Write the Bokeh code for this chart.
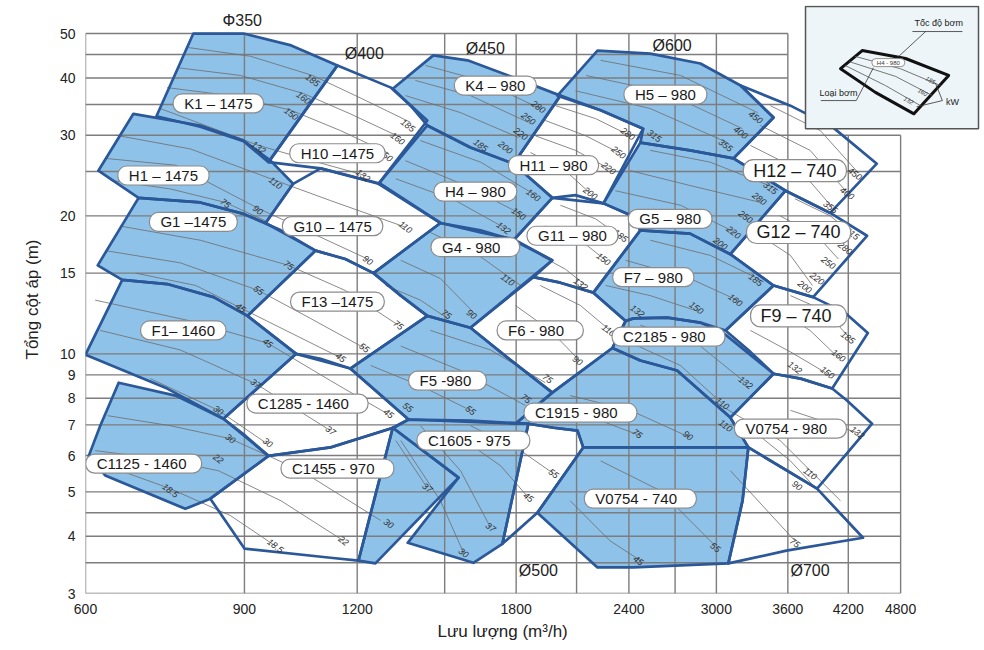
import math
from bokeh.plotting import figure
from bokeh.models import Range1d, FixedTicker, NumeralTickFormatter, Title
from bokeh.core.properties import value
from bokeh.embed import file_html
from bokeh.resources import INLINE

FONT = "Liberation Sans"
BLUE_FILL = "#8fc2e9"
EDGE = "#2b5899"
GRID = "#7d7d7d"
THIN = "#6c6c6c"

# ---- axes / grid values ----
x_ticks = [600, 900, 1200, 1800, 2400, 3000, 3600, 4200, 4800]
y_ticks = [3, 4, 5, 6, 7, 8, 9, 10, 15, 20, 30, 40, 50]
x_grid = [600, 900, 1200, 1500, 1800, 2100, 2400, 2700, 3000, 3600, 4200, 4800]
y_grid = [3, 3.5, 4, 4.5, 5, 6, 7, 8, 9, 10, 15, 20, 25, 30, 35, 40, 45, 50]

# ---- pump operating regions (flow m3/h, head m) ----
K1 = [(790, 50), (898, 50), (1014, 47.1), (1141, 42.6), (957, 26.2), (898, 29.1), (804, 31.3), (719, 33.0)]
H1 = [(678, 33.4), (804, 31.5), (898, 29.2), (962, 26.4), (1019, 23.5), (950, 19.3), (898, 20.2), (804, 21.4), (687, 21.9), (620, 25.1)]
G1 = [(687, 21.9), (804, 21.4), (898, 20.2), (988, 18.6), (1079, 16.8), (907, 12.1), (832, 13.3), (739, 14.2), (659, 14.5), (619, 15.6)]
F1 = [(659, 14.5), (739, 14.2), (832, 13.3), (907, 12.1), (1027, 10.0), (853, 7.22), (739, 8.40), (600, 9.96)]
C1125 = [(653, 8.65), (755, 8.11), (853, 7.22), (902, 6.63), (957, 5.99), (825, 4.83), (774, 4.59), (631, 5.43), (605, 5.99), (623, 6.97)]
H10 = [(1141, 42.6), (1308, 38.1), (1435, 32.3), (1267, 23.5), (1093, 25.4), (957, 26.2)]
G10 = [(1019, 23.5), (1093, 25.4), (1274, 23.5), (1484, 19.3), (1251, 15.0), (1164, 16.1), (1079, 16.8), (950, 19.3)]
F13 = [(1079, 16.8), (1164, 16.1), (1251, 15.0), (1341, 13.4), (1435, 12.1), (1179, 9.29), (1093, 9.76), (1027, 10.0), (907, 12.1)]
C1285 = [(1027, 10.0), (1179, 9.29), (1368, 7.19), (1317, 6.90), (1121, 6.25), (957, 5.99), (853, 7.22)]
C1455 = [(957, 5.99), (1121, 6.25), (1314, 6.90), (1204, 3.54), (1121, 3.59), (900, 3.76), (825, 4.83)]
C1455B = [(1314, 6.90), (1554, 5.37), (1257, 3.49), (1204, 3.54)]
K4 = [(1457, 44.8), (1590, 43.7), (1788, 40.1), (2015, 36.6), (1788, 26.0), (1602, 28.2), (1435, 31.5), (1375, 34.8), (1314, 37.9)]
H4 = [(1435, 31.5), (1602, 28.2), (1788, 26.0), (1974, 21.9), (1788, 17.7), (1644, 18.6), (1484, 19.3), (1267, 23.5)]
G4 = [(1484, 19.3), (1644, 18.4), (1788, 17.8), (1974, 16.0), (1602, 11.4), (1435, 12.1), (1341, 13.4), (1251, 15.0)]
F5 = [(1179, 9.29), (1435, 12.1), (1602, 11.4), (1761, 9.81), (1974, 8.23), (1797, 7.04), (1368, 7.19)]
C1605 = [(1368, 7.19), (1602, 7.15), (1857, 7.04), (1738, 3.85), (1614, 3.50), (1365, 3.87), (1554, 5.37), (1314, 6.90)]
H11 = [(2015, 36.6), (2233, 34.0), (2489, 31.0), (2249, 21.3), (2094, 22.2), (1974, 21.9), (1788, 26.0)]
G11 = [(1974, 21.9), (2249, 21.3), (2421, 20.0), (2471, 18.6), (2192, 13.6), (2015, 14.3), (1881, 14.7), (1974, 16.0), (1788, 17.7)]
F6 = [(1881, 14.7), (2015, 14.3), (2192, 13.6), (2380, 11.8), (2301, 10.3), (1974, 8.23), (1761, 9.81), (1602, 11.4)]
C1915 = [(1797, 7.04), (1974, 8.23), (2301, 10.3), (2471, 9.67), (2714, 9.2), (3109, 7.26), (3255, 6.25), (2136, 6.25), (2105, 6.80), (1980, 6.90), (1857, 7.04)]
GAP1915 = [(1857, 7.04), (1980, 6.90), (2105, 6.80), (2136, 6.25), (1900, 4.50), (1738, 3.85)]
H5 = [(2215, 45.9), (2534, 45.2), (2880, 43.0), (3191, 38.5), (3471, 32.8), (3134, 26.7), (2805, 27.8), (2471, 28.9), (2489, 31.0), (2233, 34.0), (2000, 36.6)]
G5 = [(2471, 28.9), (2805, 27.8), (3134, 26.7), (3579, 22.7), (3109, 16.5), (2805, 18.3), (2471, 18.6), (2421, 20.0), (2249, 21.3)]
F7 = [(2471, 18.6), (2805, 18.3), (3109, 16.5), (3471, 14.1), (3071, 11.25), (2880, 11.7), (2647, 12.0), (2428, 11.95), (2380, 11.8), (2192, 13.6)]
C2185 = [(2301, 10.3), (2380, 11.8), (2428, 11.95), (2647, 12.0), (2880, 11.7), (3056, 11.1), (3471, 9.05), (3109, 7.26), (2714, 9.2), (2471, 9.67)]
H12 = [(3191, 38.5), (3624, 34.8), (4039, 31.2), (4517, 26.0), (4011, 20.3), (3579, 22.7), (3134, 26.7), (3471, 32.8)]
G12 = [(3579, 22.7), (4011, 20.3), (4406, 18.1), (3840, 13.3), (3471, 14.1), (3109, 16.5)]
F9 = [(3471, 14.1), (3840, 13.3), (4165, 12.3), (4415, 11.1), (4031, 8.40), (3720, 8.83), (3471, 9.05), (3272, 10.1), (3071, 11.25)]
V980 = [(3109, 7.26), (3471, 9.05), (3720, 8.83), (4031, 8.40), (4186, 7.91), (4463, 7.04), (3879, 5.08), (3255, 6.25)]
D700 = [(3255, 6.25), (3879, 5.08), (4361, 3.97), (3587, 3.72), (3093, 3.49), (3207, 4.78)]
V740 = [(2136, 6.25), (3255, 6.25), (3207, 4.78), (3093, 3.49), (2428, 3.42), (2215, 3.42), (1900, 4.50)]

blue_regions = [K1, H1, G1, F1, C1125, C1455B, K4, H4, G4, F5, C1605, H5, G5, F7, C2185, C1915, V740]
white_regions = [H10, G10, F13, C1285, C1455, H11, G11, F6, GAP1915, H12, G12, F9, V980, D700]

# ---- impeller trim curves ----
trim_curves = [
    [(780, 46.6), (914, 44.6), (1071, 40.5), (1209, 36.2), (1375, 32.0)],
    [(760, 42.1), (891, 40.5), (1046, 37.0), (1179, 33.4), (1341, 29.65)],
    [(739, 38.1), (868, 36.6), (1014, 34.0), (1150, 30.7), (1300, 27.4)],
    [(726, 34.3), (933, 28.5), (1040, 26.8), (1226, 24.5)],
    [(648, 30.0), (784, 28.0), (974, 23.9), (1121, 21.6), (1357, 18.9)],
    [(631, 26.7), (755, 25.8), (931, 20.8), (1065, 18.4), (1233, 16.1)],
    [(640, 23.9), (745, 22.9), (857, 21.4), (950, 19.5)],
    [(656, 19.0), (804, 17.7), (1007, 15.6), (1164, 13.75), (1333, 11.55)],
    [(631, 16.8), (764, 15.8), (933, 13.75), (1065, 11.95), (1222, 10.3)],
    [(682, 15.0), (795, 14.1), (891, 12.6), (1150, 9.81)],
    [(615, 13.1), (784, 11.8), (955, 10.55), (1121, 8.74), (1290, 7.44)],
    [(623, 11.25), (764, 10.2), (926, 8.61), (1121, 6.80)],
    [(708, 8.83), (842, 7.53), (950, 6.40)],
    [(635, 7.33), (745, 6.97), (868, 6.53), (1040, 5.56), (1274, 4.33)],
    [(615, 6.15), (726, 5.90), (842, 5.56), (988, 4.78), (1159, 3.91)],
    [(656, 5.56), (745, 5.08), (868, 4.44), (974, 3.81)],
    [(1428, 42.6), (1644, 39.5), (1914, 34.3)],
    [(1392, 39.5), (1602, 36.6), (1857, 32.0)],
    [(1357, 36.6), (1562, 33.6), (1811, 29.65)],
    [(1990, 34.8), (2205, 32.6), (2409, 29.9)],
    [(1939, 32.3), (2151, 29.9), (2337, 27.5)],
    [(1891, 29.9), (2094, 27.8), (2278, 25.4)],
    [(1867, 27.5), (2041, 25.1), (2175, 22.4)],
    [(1410, 29.2), (1644, 26.2), (1891, 22.2)],
    [(1357, 26.4), (1582, 23.3), (1821, 20.2)],
    [(1324, 24.1), (1542, 21.6), (1751, 18.8)],
    [(1446, 18.4), (1622, 16.6), (1821, 14.1)],
    [(1341, 16.0), (1484, 14.6), (1622, 12.2)],
    [(1290, 14.1), (1410, 13.1), (1511, 11.95)],
    [(1446, 11.25), (1686, 10.2), (1939, 8.65)],
    [(1341, 10.4), (1562, 9.2), (1842, 7.72)],
    [(1242, 9.43), (1410, 8.52), (1602, 7.53)],
    [(1914, 14.1), (2121, 12.75), (2287, 11.25)],
    [(1797, 12.75), (1964, 11.25), (2116, 9.67)],
    [(2015, 21.1), (2205, 19.7), (2361, 17.9)],
    [(1939, 19.0), (2121, 17.7), (2262, 16.0)],
    [(1914, 16.4), (2041, 15.3), (2151, 14.1)],
    [(2233, 43.7), (2738, 40.5), (3332, 33.6)],
    [(2151, 40.5), (2634, 37.2), (3207, 31.0)],
    [(2094, 37.5), (2534, 34.3), (3086, 28.9)],
    [(2534, 27.8), (2953, 26.2), (3488, 23.0)],
    [(2409, 25.1), (2805, 23.3), (3357, 21.4)],
    [(2318, 22.7), (2738, 21.1), (3149, 18.4)],
    [(2534, 17.7), (2953, 16.4), (3357, 14.5)],
    [(2380, 16.0), (2805, 14.6), (3191, 13.0)],
    [(2262, 14.1), (2534, 13.4), (2857, 12.4)],
    [(2471, 11.55), (2880, 10.4), (3232, 8.65)],
    [(2380, 10.7), (2738, 9.43), (3046, 7.79)],
    [(2066, 8.11), (2409, 7.53), (2805, 6.57)],
    [(2015, 7.53), (2233, 7.15), (2471, 6.63)],
    [(2233, 5.84), (2600, 5.03), (2992, 3.81)],
    [(2066, 4.78), (2287, 3.91), (2471, 3.54)],
    [(3031, 7.72), (3530, 6.47), (4118, 4.78)],
    [(3191, 7.15), (3624, 5.84), (4271, 4.12)],
    [(3109, 5.56), (3665, 3.91)],
    [(3624, 7.53), (4298, 6.73)],
    [(3443, 34.8), (3911, 30.7), (4311, 24.8)],
    [(3357, 31.5), (3810, 27.8), (4196, 22.4)],
    [(3272, 28.5), (3720, 25.1), (4031, 20.9)],
    [(3665, 21.8), (4011, 20.0), (4240, 18.3)],
    [(3530, 20.0), (3880, 18.1), (4096, 16.1)],
    [(3357, 18.1), (3624, 16.4), (3833, 14.1)],
    [(3624, 13.4), (3962, 12.4), (4212, 10.85)],
    [(3443, 12.75), (3810, 11.25), (4096, 9.81)],
    [(3272, 11.25), (3624, 10.1), (3982, 9.05)],
    [(1410, 6.97), (1562, 5.56), (1686, 4.18)],
    [(1341, 6.47), (1484, 4.78), (1574, 3.68)],
    [(1602, 6.97), (1821, 6.15), (1980, 5.48)],
    [(1522, 6.80), (1730, 5.70), (1857, 4.86)],
    [(1324, 6.47), (1435, 5.10)],
]

# ---- motor power labels (kW) ----
kw_labels = [
    ("185", 1071, 39.5), ("160", 1046, 36.2), ("150", 1014, 33.4), ("132", 933, 28.2),
    ("185", 1365, 31.5), ("160", 1330, 29.5), ("150", 1290, 27.1), ("132", 1218, 24.5),
    ("110", 974, 23.6), ("75", 857, 21.3), ("90", 931, 20.6),
    ("110", 1357, 18.9), ("90", 1233, 16.0),
    ("75", 1007, 15.6), ("55", 933, 13.75), ("45", 891, 12.6),
    ("75", 1333, 11.55), ("55", 1222, 10.3), ("45", 1150, 9.81),
    ("45", 955, 10.55), ("37", 926, 8.61), ("30", 842, 7.53),
    ("37", 1121, 6.80), ("55", 1365, 7.64), ("45", 1300, 7.41),
    ("30", 868, 6.53), ("22", 842, 5.90), ("18.5", 745, 5.03), ("30", 955, 6.40),
    ("18.5", 974, 3.81), ("22", 1159, 3.91),
    ("30", 1300, 4.26), ("37", 1435, 5.10),
    ("37", 1686, 4.18), ("30", 1574, 3.68), ("55", 1980, 5.48), ("45", 1857, 4.86),
    ("75", 1845, 7.99), ("55", 1602, 7.53),
    ("110", 1761, 14.5), ("90", 1606, 12.2), ("75", 1506, 12.2),
    ("160", 1881, 22.2), ("150", 1811, 20.2), ("132", 1743, 18.8),
    ("280", 1905, 34.6), ("250", 1857, 32.6), ("220", 1821, 30.2), ("185", 1644, 28.5), ("200", 1751, 28.2),
    ("280", 2393, 30.2), ("315", 2560, 29.9), ("250", 2337, 27.5), ("220", 2278, 25.4), ("200", 2175, 22.4),
    ("185", 2349, 18.1), ("150", 2249, 16.1), ("132", 2121, 14.2),
    ("110", 2278, 11.25), ("90", 2105, 9.67), ("75", 1950, 8.83),
    ("450", 3315, 32.8), ("400", 3191, 30.4), ("355", 3071, 28.5),
    ("315", 3443, 23.0), ("280", 3348, 21.8), ("250", 3232, 19.9), ("220", 3134, 18.4), ("200", 3031, 17.4),
    ("185", 3315, 14.5), ("160", 3149, 13.1), ("150", 2850, 12.6), ("132", 2452, 12.4),
    ("132", 3232, 8.65), ("110", 3046, 7.79),
    ("75", 2452, 6.70), ("90", 2790, 6.63), ("110", 3071, 6.97),
    ("55", 2992, 3.78), ("45", 2458, 3.54),
    ("110", 3810, 5.48), ("90", 3686, 5.16), ("75", 3665, 3.87),
    ("132", 4298, 6.73),
    ("450", 4271, 24.7), ("400", 4186, 22.4), ("355", 4011, 20.9),
    ("315", 4240, 18.3), ("280", 4165, 17.0), ("250", 3992, 15.8), ("220", 3879, 14.6), ("200", 3758, 14.0),
    ("185", 4196, 10.85), ("160", 4096, 9.91), ("150", 3982, 9.10), ("132", 3665, 9.33),
]

# ---- pump model labels ----
model_labels = [
    ("K1 – 1475", 842, 35.2), ("H1 – 1475", 732, 24.5), ("G1 –1475", 790, 19.4),
    ("F1– 1460", 770, 11.25), ("C1125  - 1460", 696, 5.76),
    ("H10 –1475", 1141, 27.4), ("G10 – 1475", 1127, 19.0), ("F13 –1475", 1141, 13.0),
    ("C1285  -  1460", 1057, 7.79), ("C1455  -  970", 1141, 5.62),
    ("K4 – 980", 1707, 38.5), ("H4 – 980", 1622, 22.6), ("G4  -  980", 1622, 17.1),
    ("F5  -980", 1511, 8.74), ("C1605  -  975", 1614, 6.47),
    ("H11 – 980", 1980, 25.8), ("G11 – 980", 2078, 18.1), ("F6  -  980", 1914, 11.25),
    ("C1915  -  980", 2121, 7.44),
    ("H5 – 980", 2634, 36.8), ("G5 – 980", 2666, 19.7), ("F7 – 980", 2554, 14.7),
    ("C2185  -  980", 2655, 10.9),
    ("V0754  -  980", 3624, 6.87), ("V0754  -  740", 2471, 4.83),
]
model_labels_740 = [("H12 – 740", 3665, 25.1), ("G12 – 740", 3700, 18.4), ("F9  – 740", 3700, 12.1)]

diameter_labels = [("Φ350", 895, 53.4), ("Ø400", 1222, 45.2), ("Ø450", 1664, 46.4),
                   ("Ø600", 2680, 47.1), ("Ø500", 1905, 3.37), ("Ø700", 3810, 3.37)]

# ---- key diagram (upper right) ----
KEY_BOX = (3766, 5855, 31.0, 57.3)
KEY_SHAPE = [(4352, 45.9), (4861, 44.1), (5426, 40.5), (4966, 33.4), (4501, 37.2), (4118, 41.9)]
KEY_CURVES = [[(4271, 44.6), (4797, 41.9), (5313, 38.5)],
              [(4212, 43.4), (4740, 40.3), (5206, 36.6)],
              [(4165, 42.6), (4618, 38.5), (5050, 34.8)]]
KEY_LEADERS = [[(4946, 50.5), (5620, 50.5)], [(5116, 50.5), (4761, 44.3)],
               [(3916, 35.7), (4286, 35.7)], [(4286, 35.7), (4478, 42.1)],
               [(5340, 35.7), (5245, 39.0)], [(5340, 35.7), (5000, 34.6)]]
KEY_TEXTS = [("Tốc độ bơm", 5290, 52.6), ("Loại bơm", 4096, 37.0), ("kW", 5480, 35.4)]
KEY_KW = [("185", 5180, 39.5), ("160", 5076, 37.2), ("132", 4897, 35.7)]
KEY_PILL = ("H4 - 980", 4652, 43.2)

X_TITLE = "Lưu lượng (m³/h)"
Y_TITLE = "Tổng cột áp (m)"

# ================= figure =================
p = figure(width=982, height=648, x_axis_type="log", y_axis_type="log",
           x_range=Range1d(600, 5885), y_range=Range1d(3, 57.56),
           output_backend="svg", toolbar_location=None,
           min_border_left=85, min_border_right=2, min_border_top=5, min_border_bottom=55)
p.xgrid.visible = False
p.ygrid.visible = False
p.outline_line_color = None
p.background_fill_color = "white"
p.border_fill_color = "white"

for ax in (p.xaxis, p.yaxis):
    ax.axis_line_color = None
    ax.major_tick_line_color = None
    ax.minor_tick_line_color = None
    ax.major_tick_out = 0
    ax.major_tick_in = 0
    ax.major_label_text_font = FONT
    ax.major_label_text_font_size = "14px"
    ax.major_label_text_color = "#222222"
    ax.major_label_standoff = 10
    ax.formatter = NumeralTickFormatter(format="0")
    ax.axis_label_text_font = FONT
    ax.axis_label_text_font_size = "17px"
    ax.axis_label_text_font_style = "normal"
    ax.axis_label_text_color = "#222222"
p.xaxis.ticker = FixedTicker(ticks=x_ticks)
p.yaxis.ticker = FixedTicker(ticks=y_ticks)
p.yaxis.axis_label = Y_TITLE
p.yaxis.axis_label_standoff = 15

p.add_layout(Title(text=X_TITLE, align="left", offset=352, text_font=FONT, text_font_size="17px",
                   text_font_style="normal", text_color="#222222", standoff=7), "below")

# region fills
p.patches(xs=[[q for q, h in r] for r in blue_regions], ys=[[h for q, h in r] for r in blue_regions],
          fill_color=BLUE_FILL, line_color=None)

# grid (cut out behind key diagram)
sx0, sy0, sx1, sy1 = [], [], [], []
for gx in x_grid:
    sx0.append(gx); sx1.append(gx); sy0.append(y_grid[0])
    sy1.append(y_grid[-1] if gx <= x_ticks[6] else 30)
for gy in y_grid:
    sy0.append(gy); sy1.append(gy); sx0.append(x_grid[0])
    sx1.append(x_grid[-1] if gy <= 30 else x_ticks[6])
p.segment(x0=sx0, y0=sy0, x1=sx1, y1=sy1, line_color=GRID, line_width=1.4)

# trim curves
p.multi_line(xs=[[q for q, h in c] for c in trim_curves], ys=[[h for q, h in c] for c in trim_curves],
             line_color=THIN, line_width=0.8)

# region outlines
all_regions = white_regions + blue_regions
p.patches(xs=[[q for q, h in r] for r in all_regions], ys=[[h for q, h in r] for r in all_regions],
          fill_color=None, line_color=EDGE, line_width=2.7, line_join="round")

# kW labels
p.text(x=[v[1] for v in kw_labels], y=[v[2] for v in kw_labels], text=[v[0] for v in kw_labels],
       text_font=value(FONT), text_font_size="9px", text_font_style="italic", text_color="#333333",
       angle=-0.65, text_align="center", text_baseline="middle")

# model labels (pills)
p.text(x=[v[1] for v in model_labels], y=[v[2] for v in model_labels], text=[v[0] for v in model_labels],
       text_font=value(FONT), text_font_size="15px", text_color="#1a1a1a",
       text_align="center", text_baseline="middle",
       background_fill_color="white", border_line_color="#8c8c8c", border_line_width=1.2,
       padding=dict(left=11, right=11, top=1, bottom=1), border_radius=9)
p.text(x=[v[1] for v in model_labels_740], y=[v[2] for v in model_labels_740], text=[v[0] for v in model_labels_740],
       text_font=value(FONT), text_font_size="18px", text_color="#1a1a1a",
       text_align="center", text_baseline="middle",
       background_fill_color="white", border_line_color="#8c8c8c", border_line_width=1.2,
       padding=dict(left=10, right=10, top=1, bottom=1), border_radius=10)

# impeller diameter labels
p.text(x=[v[1] for v in diameter_labels], y=[v[2] for v in diameter_labels], text=[v[0] for v in diameter_labels],
       text_font=value(FONT), text_font_size="16px", text_color="#222222",
       text_align="center", text_baseline="middle")

# key diagram
p.quad(left=KEY_BOX[0], right=KEY_BOX[1], bottom=KEY_BOX[2], top=KEY_BOX[3],
       fill_color="#edf5f8", line_color="#555555", line_width=1.5)
p.patch(x=[q for q, h in KEY_SHAPE], y=[h for q, h in KEY_SHAPE], fill_color=None,
        line_color="#111111", line_width=3, line_join="round")
p.multi_line(xs=[[q for q, h in c] for c in KEY_CURVES], ys=[[h for q, h in c] for c in KEY_CURVES],
             line_color="#555555", line_width=0.8)
p.multi_line(xs=[[q for q, h in c] for c in KEY_LEADERS], ys=[[h for q, h in c] for c in KEY_LEADERS],
             line_color="#333333", line_width=0.8)
p.text(x=[v[1] for v in KEY_TEXTS], y=[v[2] for v in KEY_TEXTS], text=[v[0] for v in KEY_TEXTS],
       text_font=value(FONT), text_font_size="9px", text_color="#222222",
       text_align="center", text_baseline="middle")
p.text(x=[v[1] for v in KEY_KW], y=[v[2] for v in KEY_KW], text=[v[0] for v in KEY_KW],
       text_font=value(FONT), text_font_size="6px", text_font_style="italic", text_color="#333333",
       angle=-0.5, text_align="center", text_baseline="middle")
p.text(x=[KEY_PILL[1]], y=[KEY_PILL[2]], text=[KEY_PILL[0]],
       text_font=value(FONT), text_font_size="6px", text_color="#333333",
       text_align="center", text_baseline="middle",
       background_fill_color="white", border_line_color="#777777", border_line_width=0.8,
       padding=dict(left=5, right=5, top=1, bottom=1), border_radius=4)

open("out.html", "w").write(file_html(p, INLINE))
